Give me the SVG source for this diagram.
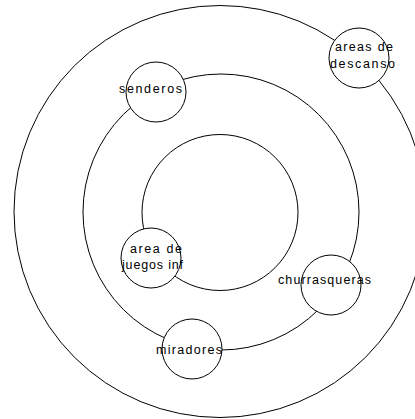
<svg xmlns="http://www.w3.org/2000/svg" width="415" height="419" viewBox="0 0 415 419">
<style>
.ring{fill:none;stroke:#000;stroke-width:1}
.node circle{fill:#fff;stroke:#000;stroke-width:1}
.node text{font-family:"Liberation Sans",Arial,sans-serif;font-size:12.5px;fill:#000}
</style>
<rect width="415" height="419" fill="#fff"/>
<g id="connectors">
<circle class="ring" cx="220" cy="211.5" r="206"/>
<circle class="ring" cx="221" cy="212" r="138"/>
<circle class="ring" cx="220" cy="212.5" r="78"/>
</g>
<g id="areas-de-descanso" class="node">
<circle cx="359" cy="58" r="30"/>
<text x="335" y="51" textLength="58" lengthAdjust="spacing">areas de</text>
<text x="330" y="68" textLength="65" lengthAdjust="spacing">descanso</text>
</g>
<g id="senderos" class="node">
<circle cx="156" cy="92" r="30"/>
<text x="119" y="93" textLength="63" lengthAdjust="spacing">senderos</text>
</g>
<g id="area-de-juegos-inf" class="node">
<circle cx="151" cy="258" r="30"/>
<text x="130" y="253" textLength="52" lengthAdjust="spacing">area de</text>
<text x="122" y="269" textLength="61" lengthAdjust="spacing">juegos inf</text>
</g>
<g id="churrasqueras" class="node">
<circle cx="331" cy="285" r="30"/>
<text x="278" y="284" textLength="93" lengthAdjust="spacing">churrasqueras</text>
</g>
<g id="miradores" class="node">
<circle cx="192" cy="349" r="30"/>
<text x="156" y="354" textLength="66" lengthAdjust="spacing">miradores</text>
</g>
</svg>
